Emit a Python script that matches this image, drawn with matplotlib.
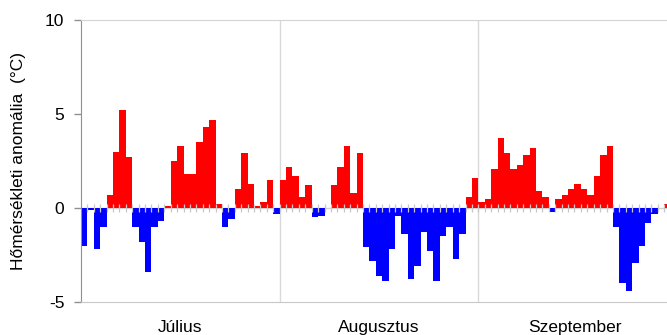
import matplotlib
matplotlib.use("Agg")
import matplotlib.pyplot as plt
import numpy as np

plt.rcParams['font.family'] = ['Liberation Sans', 'DejaVu Sans']

# daily temperature anomalies (°C)
july = [-2.0, -0.1, -2.2, -1.0, 0.7, 3.0, 5.2, 2.7, -1.0, -1.8, -3.4, -1.0, -0.7,
        0.1, 2.5, 3.3, 1.8, 1.8, 3.5, 4.3, 4.7, 0.2, -1.0, -0.6, 1.0, 2.9, 1.3,
        0.1, 0.3, 1.5, -0.3]
august = [1.5, 2.2, 1.7, 0.6, 1.2, -0.5, -0.4, 0.0, 1.2, 2.2, 3.3, 0.8, 2.9,
          -2.1, -2.8, -3.6, -3.9, -2.2, -0.4, -1.4, -3.8, -3.1, -1.3, -2.3, -3.9,
          -1.5, -1.0, -2.7, -1.4, 0.6, 1.6]
september = [0.3, 0.5, 2.1, 3.7, 2.9, 2.1, 2.3, 2.8, 3.2, 0.9, 0.6, -0.2, 0.5,
             0.7, 1.0, 1.3, 1.0, 0.7, 1.7, 2.8, 3.3, -1.0, -4.0, -4.4, -2.9, -2.0,
             -0.8, -0.3, 0.0, 0.2]
months = ["Július", "Augusztus", "Szeptember"]
yticks = [-5, 0, 5, 10]

values = np.array(july + august + september)
days = np.arange(len(values))
lengths = [len(july), len(august), len(september)]
edges = np.cumsum([0] + lengths) - 0.5

fig = plt.figure(figsize=(6.67, 3.35), dpi=100)
ax = fig.add_axes([0.1214, 0.0985, 0.884, 0.8418])

colors = np.where(values >= 0, "#ff0000", "#0000ff")
ax.bar(days, values, width=1.0, color=colors, linewidth=0, zorder=2)

# zero line and little day ticks
ax.axhline(0, color="#d0d0d0", linewidth=1, zorder=1)
ax.vlines(days[:-1] + 0.5, -0.2, 0.2, color="#c8c8c8", linewidth=0.9, zorder=3)

# month separators
for e in edges[1:-1]:
    ax.axvline(e, color="#d9d9d9", linewidth=1, zorder=0)

ax.set_xlim(edges[0], edges[-1])
ax.set_ylim(-5, 10)
ax.set_yticks(yticks)
ax.set_yticklabels([str(t) for t in yticks], fontsize=12.5)
ax.set_xticks([])
ax.tick_params(axis='y', length=5, width=1, color="#909090", pad=7)

ax.spines['left'].set_color("#909090")
ax.spines['top'].set_color("#d4d4d4")
ax.spines['bottom'].set_color("#c8c8c8")
ax.spines['right'].set_visible(False)

centers = (edges[:-1] + edges[1:]) / 2
for c, m in zip(centers, months):
    ax.text(c, -0.092, m, transform=ax.get_xaxis_transform(), ha='center',
            va='center', fontsize=12.5)

ax.set_ylabel("Hőmérsékleti anomália  (°C)", fontsize=12.5)
ax.yaxis.set_label_coords(-0.093, 0.5)

plt.savefig("out.png", dpi=100)
